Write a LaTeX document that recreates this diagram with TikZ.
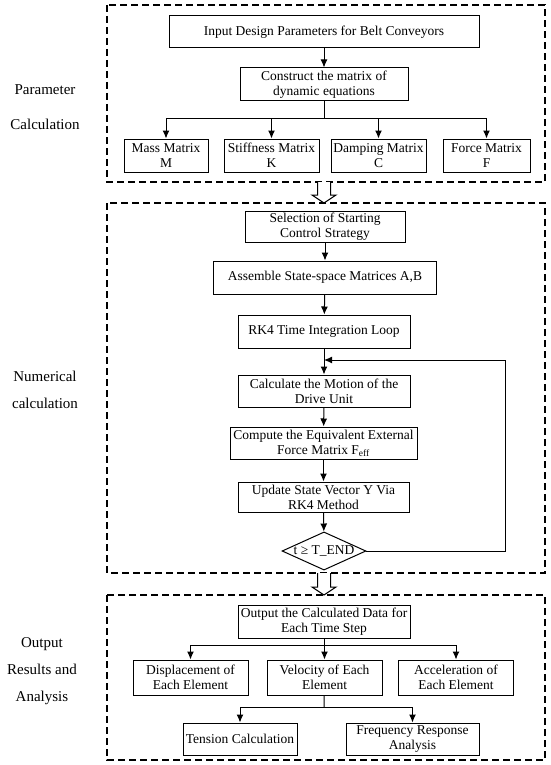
\documentclass[tikz,border=0pt]{standalone}
\usepackage{fontspec}
\setmainfont{Liberation Serif}
\usepackage{tikz}
\usetikzlibrary{arrows.meta, shapes.geometric, positioning}

\tikzset{
    box/.style={draw, line width=1pt, align=center, inner sep=1pt, font=\fontsize{13.5}{15}\selectfont},
    grp/.style={draw, line width=1.3pt, dash pattern=on 7pt off 4pt},
    side/.style={align=center, font=\fontsize{15}{27}\selectfont},
    link/.style={line width=1pt, -{Latex[length=8pt,width=7pt]}},
}
% hollow block arrow: x, top, tip
\newcommand{\hollowdown}[3]{%
    \draw[line width=1pt, fill=white] (#1-6.5,#2) -- (#1-6.5,#3-8) -- (#1-12,#3-8) -- (#1,#3)
        -- (#1+12,#3-8) -- (#1+6.5,#3-8) -- (#1+6.5,#2);}

\begin{document}
\begin{tikzpicture}[x=1pt, y=-1pt]
    \useasboundingbox (0,0) rectangle (550,765);

    % Group frames
    \draw[grp] (107,5) rectangle (545,182);
    \draw[grp] (107,203) rectangle (545,573);
    \draw[grp] (107,595) rectangle (545,760);
    \hollowdown{324}{182}{203}
    \hollowdown{324}{573}{595}

    % Side labels
    \node[side] (lpar) at (45,107) {Parameter\\[8pt]Calculation};
    \node[side] (lnum) at (45,390) {Numerical\\calculation};
    \node[side] (lres) at (42,671) {Output\\Results and\\Analysis};

    % Parameter calculation
    \node[box, minimum width=310pt, minimum height=32pt] (inp) at (324,32) {Input Design Parameters for Belt Conveyors};
    \node[box, minimum width=168pt, minimum height=33pt] (con) at (324,84.5) {Construct the matrix of\\dynamic equations};
    \node[box, minimum width=84pt, minimum height=33pt] (mass) at (166,155.5) {Mass Matrix\\M};
    \node[box, minimum width=95pt, minimum height=33pt] (stiff) at (271.5,155.5) {Stiffness Matrix\\K};
    \node[box, minimum width=95pt, minimum height=33pt] (damp) at (378.5,155.5) {Damping Matrix\\C};
    \node[box, minimum width=87pt, minimum height=33pt] (force) at (486.5,155.5) {Force Matrix\\F};
    \coordinate (b1) at (324,119);

    \draw[link] (inp) -- (con);
    \draw[line width=1pt] (con) -- (b1);
    \foreach \n in {mass, stiff, damp, force}
        \draw[link] (b1) -| (\n.north);

    % Numerical calculation
    \node[box, minimum width=160pt, minimum height=31pt] (sel) at (325,226.5) {Selection of Starting\\Control Strategy};
    \node[box, minimum width=223pt, minimum height=33pt] (asm) at (325,277.5) {Assemble State-space Matrices A,B};
    \node[box, minimum width=172pt, minimum height=33pt] (rk4) at (324,331.5) {RK4 Time Integration Loop};
    \node[box, minimum width=172pt, minimum height=32pt] (calc) at (324,391) {Calculate the Motion of the\\Drive Unit};
    \node[box, minimum width=187pt, minimum height=32pt] (comp) at (323.5,443) {Compute the Equivalent External\\Force Matrix F\textsubscript{eff}};
    \node[box, minimum width=171pt, minimum height=30pt] (upd) at (323.5,497) {Update State Vector Y Via\\RK4 Method};
    \node[draw, diamond, aspect=2.2, inner sep=0pt, line width=1pt, font=\fontsize{13.5}{15}\selectfont] (chk) at (324,551) {t ≥ T\_END};
    \coordinate (lp) at (324,360);
    \coordinate (lc) at (505,360);

    \draw[link] (sel) -- (asm);
    \draw[link] (asm) -- (rk4);
    \draw[link] (rk4) -- (calc);
    \draw[link] (calc) -- (comp);
    \draw[link] (comp) -- (upd);
    \draw[link] (upd) -- (chk);
    \draw[link] (chk.east) -| (lc) -- (lp);

    % Output results and analysis
    \node[box, minimum width=172pt, minimum height=33pt] (out) at (324,621.5) {Output the Calculated Data for\\Each Time Step};
    \node[box, minimum width=115pt, minimum height=35pt] (disp) at (190.5,677.5) {Displacement of\\Each Element};
    \node[box, minimum width=115pt, minimum height=35pt] (vel) at (324.5,677.5) {Velocity of Each\\Element};
    \node[box, minimum width=115pt, minimum height=35pt] (acc) at (456,677.5) {Acceleration of\\Each Element};
    \node[box, minimum width=114pt, minimum height=32pt] (tens) at (240,739) {Tension Calculation};
    \node[box, minimum width=133pt, minimum height=32pt] (freq) at (412.5,739) {Frequency Response\\Analysis};
    \coordinate (b2) at (324,645);
    \coordinate (b3) at (324,707);

    \draw[line width=1pt] (out) -- (b2);
    \foreach \n in {disp, vel, acc}
        \draw[link] (b2) -| (\n.north);
    \draw[line width=1pt] (vel) -- (b3);
    \foreach \n in {tens, freq}
        \draw[link] (b3) -| (\n.north);
\end{tikzpicture}
\end{document}
